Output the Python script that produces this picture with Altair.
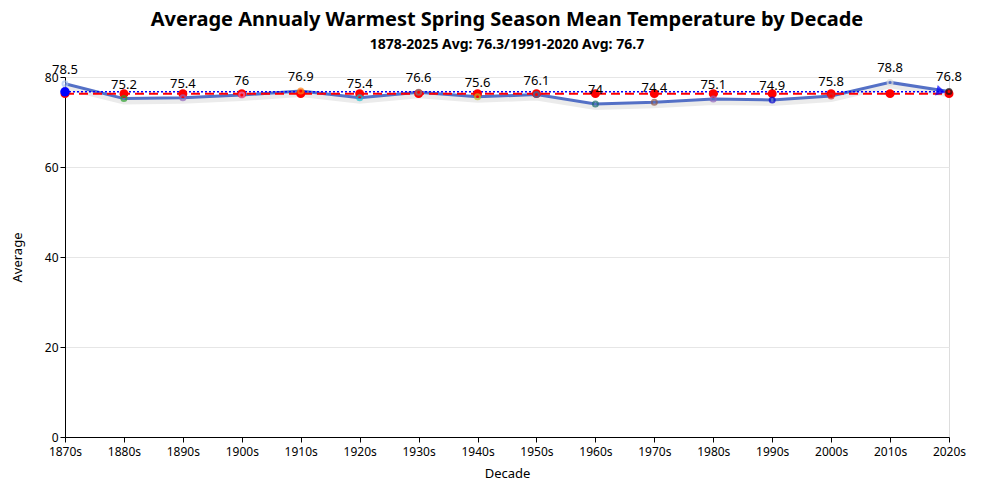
import altair as alt
import pandas as pd

decades = ["1870s", "1880s", "1890s", "1900s", "1910s", "1920s", "1930s", "1940s",
           "1950s", "1960s", "1970s", "1980s", "1990s", "2000s", "2010s", "2020s"]
averages = [78.5, 75.2, 75.4, 76, 76.9, 75.4, 76.6, 75.6, 76.1, 74, 74.4, 75.1, 74.9, 75.8, 78.8, 76.8]
point_colors = ["#a9c4f5", "#2ca02c", "#9467bd", "#e377c2", "#ff7f0e", "#17becf", "#7f7f7f", "#bcbd22",
                "#1f77b4", "#1b6b6b", "#8c564b", "#9467bd", "#0000cc", "#d62728", "#dddddd", "#111111"]
long_avg = 76.3
recent_avg = 76.7

df = pd.DataFrame({"Decade": decades, "Average": averages, "pc": point_colors,
                   "long": [long_avg] * len(decades), "recent": [recent_avg] * len(decades)})

xenc = alt.X("Decade:N", sort=decades, scale=alt.Scale(type="point", padding=0),
             axis=alt.Axis(title="Decade", labelAngle=0, labelFontSize=12, titleFontSize=13,
                           titleFontWeight="normal", domainColor="black", tickColor="black",
                           labelColor="black", titleColor="black", grid=False, labelPadding=4,
                           titlePadding=10))
yscale = alt.Scale(domain=[0, 80], nice=False)
yaxis = alt.Axis(title="Average", values=[0, 20, 40, 60, 80], labelFontSize=12, titleFontSize=13,
                 titleFontWeight="normal", domainColor="black", tickColor="black",
                 labelColor="black", titleColor="black", gridColor="#e6e6e6", titlePadding=20)

base = alt.Chart(df)

shadow = base.mark_line(color="#000000", opacity=0.08, strokeWidth=6, yOffset=3).encode(
    x=xenc, y=alt.Y("Average:Q", scale=yscale, axis=yaxis))
line = base.mark_line(color="#5470c6", strokeWidth=3).encode(
    x=xenc, y=alt.Y("Average:Q", scale=yscale, axis=yaxis))
pts = base.mark_point(filled=False, size=25, strokeWidth=2).encode(
    x=xenc, y=alt.Y("Average:Q", scale=yscale), color=alt.Color("pc:N", scale=None))

recent_line = base.mark_line(color="blue", strokeDash=[2, 2], strokeWidth=1.5).encode(
    x=xenc, y=alt.Y("recent:Q", scale=yscale))
long_line = base.mark_line(color="red", strokeDash=[9, 5], strokeWidth=2).encode(
    x=xenc, y=alt.Y("long:Q", scale=yscale))
long_pts = base.mark_circle(color="red", size=80, opacity=1).encode(
    x=xenc, y=alt.Y("long:Q", scale=yscale))
recent_pt = alt.Chart(df.iloc[[0]]).mark_circle(color="blue", size=90, opacity=1).encode(
    x=xenc, y=alt.Y("recent:Q", scale=yscale))
arrow = alt.Chart(df.iloc[[-1]]).mark_point(shape="triangle-right", filled=True, color="blue",
                                             size=120, xOffset=-8, angle=14).encode(
    x=xenc, y=alt.Y("Average:Q", scale=yscale))

labels = base.mark_text(dy=-14, fontSize=13, color="black").encode(
    x=xenc, y=alt.Y("Average:Q", scale=yscale), text=alt.Text("Average:Q"))

chart = alt.layer(shadow, line, recent_line, long_line, long_pts, recent_pt, pts, arrow, labels).properties(
    width=884, height=360,
    title=alt.TitleParams("Average Annualy Warmest Spring Season Mean Temperature by Decade",
                          subtitle="1878-2025 Avg: 76.3/1991-2020 Avg: 76.7",
                          fontSize=20, subtitleFontSize=14, subtitleFontWeight="bold",
                          subtitleColor="black", color="black", anchor="middle", offset=10,
                          subtitlePadding=8),
    autosize=alt.AutoSizeParams(type="none"),
    padding={"left": 57, "top": 69, "right": 43, "bottom": 55},
).configure_view(stroke=None).configure(font="Noto Sans")

chart.save("out.html", embed_options={"renderer": "svg", "actions": False})
